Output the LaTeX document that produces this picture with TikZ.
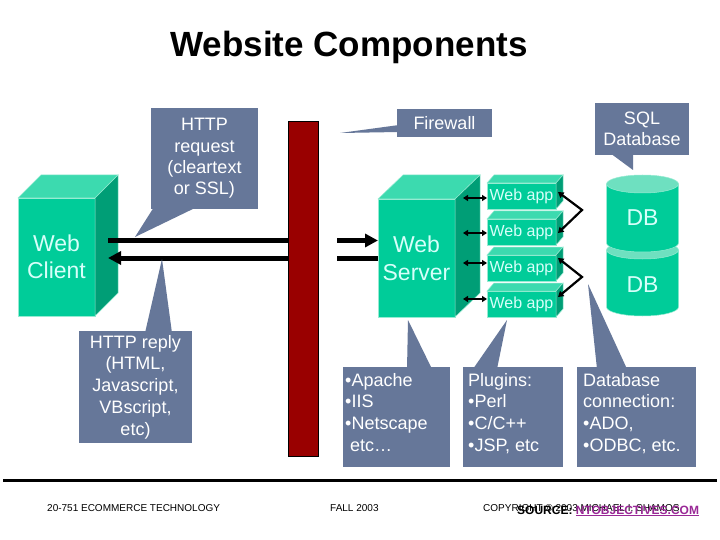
\documentclass[tikz,border=0pt]{standalone}
\usepackage{fontspec}
\setmainfont{Liberation Sans}
\usetikzlibrary{arrows.meta,calc}
\definecolor{tfront}{RGB}{0,204,153}
\definecolor{ttopc}{RGB}{60,218,175}
\definecolor{tsidec}{RGB}{0,158,118}
\definecolor{tedgec}{RGB}{150,235,210}
\definecolor{dbtopc}{RGB}{110,224,192}
\definecolor{paletext}{RGB}{215,255,250}
\definecolor{callc}{RGB}{102,119,153}
\definecolor{fwred}{RGB}{153,0,0}
\definecolor{srcpurple}{RGB}{153,40,150}
\newcommand{\boxthree}[9]{% name, x, y, w, h, dx, dy, font, content
  \node[frontface, minimum width=#4pt, minimum height=#5pt, anchor=north west, font=#8] (#1) at (#2,#3) {#9};
  \path[topface] (#1.north west) -- ++(#6,-#7) -- ++(#4,0) -- (#1.north east) -- cycle;
  \path[sideface] (#1.north east) -- ++(#6,-#7) -- ++(0,#5) -- (#1.south east) -- cycle;
}
\begin{document}
\begin{tikzpicture}[x=1pt,y=-1pt,
  frontface/.style={fill=tfront, draw=tedgec, line width=0.5pt, inner sep=0pt, outer sep=0pt, text=paletext, align=center},
  topface/.style={fill=ttopc, draw=tedgec, line width=0.5pt},
  sideface/.style={fill=tsidec, draw=tedgec, line width=0.5pt},
  callout/.style={fill=callc, inner sep=0pt, outer sep=0pt, text=white, align=center, font=\fontsize{18}{21.3}\selectfont},
  calltext/.style={inner sep=0pt, text=white, align=left, font=\fontsize{18}{21.7}\selectfont},
  pointer/.style={fill=callc},
  bigline/.style={line width=5pt},
  bighead/.style={-{Triangle[length=13pt,width=13pt]}},
  smallarr/.style={draw=black, line width=1.8pt, {Triangle[length=5pt,width=6pt]}-{Triangle[length=5pt,width=6pt]}},
  zig/.style={draw=black, line width=2.2pt, line join=miter, {Triangle[length=5.5pt,width=6.5pt]}-{Triangle[length=5.5pt,width=6.5pt]}},
  foot/.style={inner sep=0pt, anchor=base west, font=\fontsize{10}{10}\selectfont},
  dbtext/.style={inner sep=0pt, text=paletext, font=\fontsize{23}{23}\selectfont}
]
\useasboundingbox (0,0) rectangle (720,540);
\fill[white] (0,0) rectangle (720,540);

% title
\node[inner sep=0pt, anchor=base, font=\fontsize{35}{40}\selectfont\bfseries] (title) at (349,57) {Website Components};

% firewall
\node[fill=fwred, draw=black, line width=0.8pt, minimum width=30pt, minimum height=335pt, inner sep=0pt, anchor=north west] (fw) at (288,121) {};

% web client and web server
\boxthree{client}{18}{198}{77}{118}{23}{23}{\fontsize{23}{27}\selectfont}{Web\\Client}
\boxthree{srv}{378}{199}{77}{118}{25}{24}{\fontsize{23}{28}\selectfont}{Web\\Server}

% web apps
\boxthree{app1}{487}{183}{69}{26}{7}{8}{\fontsize{16}{16}\selectfont}{Web app}
\boxthree{app2}{487}{219}{69}{26}{7}{8}{\fontsize{16}{16}\selectfont}{Web app}
\boxthree{app3}{487}{255}{69}{26}{7}{8}{\fontsize{16}{16}\selectfont}{Web app}
\boxthree{app4}{487}{291}{69}{26}{7}{8}{\fontsize{16}{16}\selectfont}{Web app}

% request / reply arrows
\coordinate (reqA) at (108,240.5);
\coordinate (reqB) at (337,240.5);
\coordinate (repA) at (108,258);
\coordinate (repB) at (337,258);
\draw[bigline] (reqA) -- (reqA -| fw.west);
\draw[bigline,bighead] (reqB) -- (reqB -| srv.west);
\draw[bigline] (repB -| srv.west) -- (repB);
\draw[bigline,bighead] (repA -| fw.west) -- (repA);

% server <-> apps
\coordinate (s1) at (463,198);
\coordinate (s2) at (463,233);
\coordinate (s3) at (463,263);
\coordinate (s4) at (463,299);
\draw[smallarr] (s1) -- (s1 -| app1.west);
\draw[smallarr] (s2) -- (s2 -| app2.west);
\draw[smallarr] (s3) -- (s3 -| app3.west);
\draw[smallarr] (s4) -- (s4 -| app4.west);

% app <-> app zigzags
\coordinate (za) at (558,192);
\coordinate (zb) at (582,210);
\coordinate (zc) at (558,233);
\coordinate (zd) at (558,258);
\coordinate (ze) at (582,277);
\coordinate (zf) at (558,297);
\draw[zig] (za) -- (zb) -- (zc);
\draw[zig] (zd) -- (ze) -- (zf);

% databases
\path[fill=tfront, draw=tedgec, line width=0.5pt] (606.5,250) -- (606.5,307) arc[start angle=180, end angle=360, x radius=36pt, y radius=9pt] -- (678.5,250) -- cycle;
\path[fill=dbtopc, draw=tedgec, line width=0.5pt] (642.5,250) ellipse[x radius=36pt, y radius=9pt];
\path[fill=tfront, draw=tedgec, line width=0.5pt] (606.5,184) -- (606.5,243) arc[start angle=180, end angle=360, x radius=36pt, y radius=9pt] -- (678.5,184) -- cycle;
\path[fill=dbtopc, draw=tedgec, line width=0.5pt] (642.5,184) ellipse[x radius=36pt, y radius=9pt];
\node[dbtext] (db1) at (642.5,218) {DB};
\node[dbtext] (db2) at (642.5,285) {DB};

% callouts
\node[callout, minimum width=107pt, minimum height=101pt, anchor=north west] (req) at (151,108) {HTTP\\request\\(cleartext\\or SSL)};
\coordinate (reqtip) at (135,237);
\fill[pointer] ($(req.south west)+(3,-2)$) -- ($(req.south west)+(46,-2)$) -- (reqtip) -- cycle;

\node[callout, minimum width=95pt, minimum height=28pt, anchor=north west] (fwl) at (397,109) {Firewall};
\coordinate (fwtip) at (340,133);
\fill[pointer] ($(fwl.south west)+(2,-12)$) -- ($(fwl.south west)+(2,-5)$) -- (fwtip) -- cycle;

\node[callout, minimum width=94pt, minimum height=52pt, anchor=north west] (sql) at (595,103) {SQL\\Database};
\coordinate (sqltip) at (633,170);
\fill[pointer] ($(sql.south west)+(15,-2)$) -- ($(sql.south west)+(38,-2)$) -- (sqltip) -- cycle;

\node[callout, minimum width=113pt, minimum height=112pt, anchor=north west, font=\fontsize{18}{21.7}\selectfont] (rep) at (79,331) {HTTP reply\\(HTML,\\Javascript,\\VBscript,\\etc)};
\coordinate (reptip) at (162,259);
\fill[pointer] ($(rep.north west)+(66,2)$) -- ($(rep.north west)+(93,2)$) -- (reptip) -- cycle;

\node[callout, minimum width=107pt, minimum height=100pt, anchor=north west] (apache) at (343,367) {};
\node[calltext, anchor=north west] (apachet) at (345,373) {•Apache\\•IIS\\•Netscape\\\hspace{5pt}etc…};
\coordinate (apachetip) at (408,320);
\fill[pointer] ($(apache.north west)+(64,2)$) -- ($(apache.north west)+(89,2)$) -- (apachetip) -- cycle;

\node[callout, minimum width=100pt, minimum height=100pt, anchor=north west] (plug) at (463,367) {};
\node[calltext, anchor=north west] (plugt) at (468,373) {Plugins:\\•Perl\\•C/C++\\•JSP, etc};
\coordinate (plugtip) at (507,320);
\fill[pointer] ($(plug.north west)+(10,2)$) -- ($(plug.north west)+(34,2)$) -- (plugtip) -- cycle;

\node[callout, minimum width=119pt, minimum height=100pt, anchor=north west] (dbc) at (577,367) {};
\node[calltext, anchor=north west] (dbct) at (583,373) {Database\\connection:\\•ADO,\\•ODBC, etc.};
\coordinate (dbctip) at (588,284);
\fill[pointer] ($(dbc.north west)+(20,2)$) -- ($(dbc.north west)+(50,2)$) -- (dbctip) -- cycle;

% footer
\coordinate (ruleL) at (3,480.5);
\coordinate (ruleR) at (717,480.5);
\draw[line width=3pt] (ruleL) -- (ruleR);
\node[foot] (course) at (47,511) {20-751 ECOMMERCE TECHNOLOGY};
\node[foot] (term) at (330,511) {FALL 2003};
\node[foot] (copy) at (483,511) {COPYRIGHT © 2003 MICHAEL I. SHAMOS};
\node[inner sep=0pt, anchor=base west, font=\fontsize{12}{12}\selectfont\bfseries] (src) at (517,514) {SOURCE: \textcolor{srcpurple}{\underline{NTOBJECTIVES.COM}}};
\end{tikzpicture}
\end{document}
